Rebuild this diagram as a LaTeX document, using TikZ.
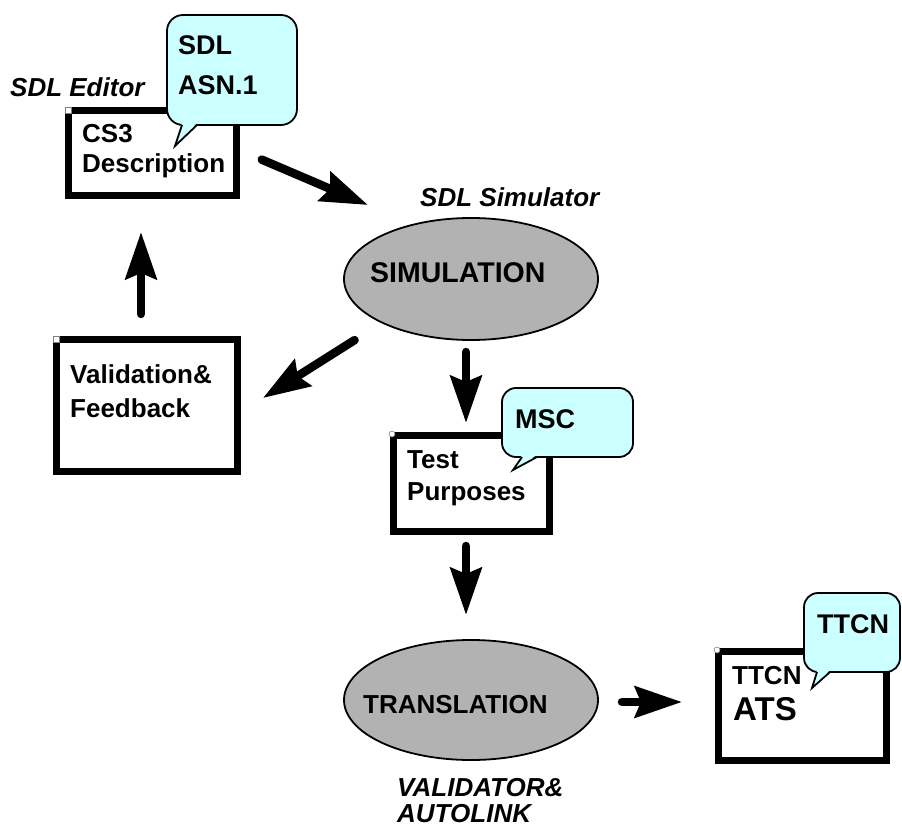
\documentclass[tikz,border=0pt]{standalone}
\usepackage{fontspec}
\setmainfont{Liberation Sans}
\usetikzlibrary{arrows.meta,shapes.geometric}
\definecolor{callcyan}{HTML}{CCFFFF}
\definecolor{ellgray}{HTML}{B2B2B2}
\begin{document}
\begin{tikzpicture}[x=1pt,y=-1pt,
  framebox/.style={draw=black, line width=7pt, fill=white, rectangle, inner sep=0pt, outer sep=0pt},
  bubble/.style={draw=black, line width=1.8pt, fill=callcyan, rectangle, rounded corners=16pt, inner sep=0pt, outer sep=0pt},
  oval/.style={draw=black, line width=1.8pt, fill=ellgray, ellipse, inner sep=0pt, outer sep=0pt},
  txt/.style={anchor=base west, inner sep=0pt, font=\fontsize{26}{30}\selectfont\bfseries},
  bubtxt/.style={anchor=base west, inner sep=0pt, font=\fontsize{27}{30}\selectfont\bfseries},
  itxt/.style={anchor=base west, inner sep=0pt, font=\fontsize{26}{30}\selectfont\bfseries\itshape},
  bigarrow/.style={line width=8.5pt, line cap=round, -{Stealth[length=47pt, width=31pt, inset=6pt]}},
  cornersq/.style={fill=white, draw=gray, line width=0.6pt},
  tailfill/.style={fill=callcyan},
  tailline/.style={draw=black, line width=1.8pt, line join=miter}
]
\useasboundingbox (0,0) rectangle (902,826);

% boxes
\node[framebox, minimum width=168pt, minimum height=85pt] (b1) at (152.5,153) {};
\node[framebox, minimum width=181pt, minimum height=132pt] (b2) at (147,405.5) {};
\node[framebox, minimum width=156pt, minimum height=96pt] (b3) at (471.5,483.5) {};
\node[framebox, minimum width=168pt, minimum height=109pt] (b4) at (802.5,706) {};
\filldraw[cornersq] (65,107) rectangle (71,113);
\filldraw[cornersq] (53,336) rectangle (59,342);
\filldraw[cornersq] (392,434) circle (3pt);
\filldraw[cornersq] (717,650) circle (3pt);

% box texts
\node[txt] (t1a) at (82,143) {CS3};
\node[txt] (t1b) at (82,173) {Description};
\node[txt] (t2a) at (70,383) {Validation\&};
\node[txt] (t2b) at (70,417) {Feedback};
\node[txt] (t3a) at (407,468) {Test};
\node[txt] (t3b) at (407,500) {Purposes};
\node[txt] (t4a) at (732,684) {TTCN};
\node[anchor=base west, inner sep=0pt, font=\fontsize{33}{36}\selectfont\bfseries] (t4b) at (733,720) {ATS};

% ellipses
\node[oval, minimum width=254pt, minimum height=122pt] (sim) at (471,279) {};
\node[anchor=base west, inner sep=0pt, font=\fontsize{28.5}{32}\selectfont\bfseries] (simt) at (370,283) {SIMULATION};
\node[oval, minimum width=254pt, minimum height=120pt] (tra) at (471,700) {};
\node[txt] (trat) at (363,713) {TRANSLATION};

% italic labels
\node[itxt] (ed) at (10,97) {SDL Editor};
\node[itxt] (sm) at (420,207) {SDL Simulator};
\node[itxt] (va) at (397,796) {VALIDATOR\&};
\node[itxt] (al) at (397,822) {AUTOLINK};

% callouts
\node[bubble, minimum width=130pt, minimum height=110pt] (c1) at (232,70) {};
\fill[tailfill] (182,123) -- (175,146) -- (197,123) -- cycle;
\draw[tailline] (182,125) -- (175,146) -- (197,125);
\node[bubtxt] (c1a) at (178,55) {SDL};
\node[bubtxt] (c1b) at (178,95) {ASN.1};

\node[bubble, rounded corners=14pt, minimum width=131pt, minimum height=69pt] (c2) at (567.5,422.5) {};
\fill[tailfill] (522,455) -- (513,470) -- (537,455) -- cycle;
\draw[tailline] (522,457) -- (513,470) -- (537,457);
\node[bubtxt] (c2a) at (515,428) {MSC};

\node[bubble, rounded corners=14pt, minimum width=96pt, minimum height=79pt] (c3) at (852,632.5) {};
\fill[tailfill] (817,670) -- (812,688) -- (830,670) -- cycle;
\draw[tailline] (817,672) -- (812,688) -- (830,672);
\node[bubtxt] (c3a) at (817,633) {TTCN};

% arrow end points
\coordinate (a1s) at (261.7,159.6);
\coordinate (a1e) at (368,205);
\coordinate (a2s) at (354.6,340.1);
\coordinate (a2e) at (263,398);
\coordinate (a3s) at (141,314);
\coordinate (a3e) at (141,232);
\coordinate (a4s) at (466,352);
\coordinate (a4e) at (466,423);
\coordinate (a5s) at (466,546);
\coordinate (a5e) at (466,615);
\coordinate (a6s) at (622,702);
\coordinate (a6e) at (682,702);

\draw[bigarrow] (a1s) -- (a1e);
\draw[bigarrow] (a2s) -- (a2e);
\draw[bigarrow] (a3s) -- (a3e);
\draw[bigarrow] (a4s) -- (a4e);
\draw[bigarrow] (a5s) -- (a5e);
\draw[bigarrow] (a6s) -- (a6e);
\end{tikzpicture}
\end{document}
